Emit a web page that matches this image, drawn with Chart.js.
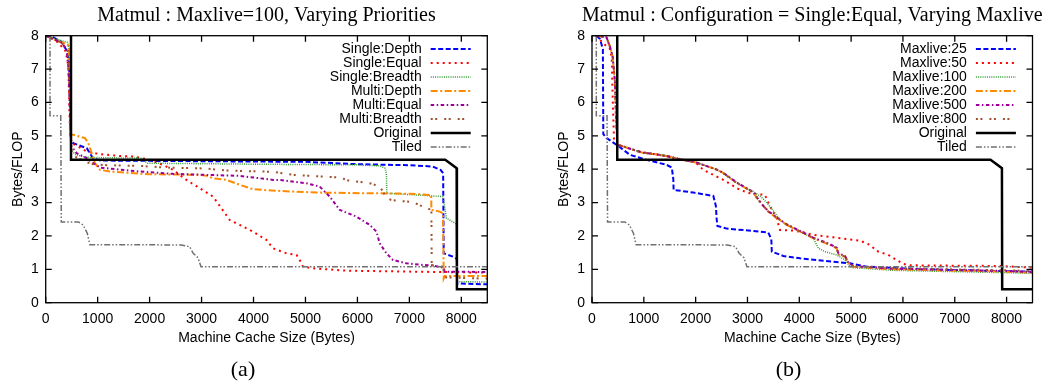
<!DOCTYPE html>
<html>
<head>
<meta charset="utf-8">
<script src="https://cdn.jsdelivr.net/npm/chart.js@4.4.0/dist/chart.umd.min.js"></script>
<style>
  body { margin: 0; background: #fff; }
  .wrap { position: absolute; top: 0; }
</style>
</head>
<body>
<div class="wrap" style="left:0"><canvas id="chartA" width="520" height="383"></canvas></div>
<div class="wrap" style="left:520px"><canvas id="chartB" width="531" height="383"></canvas></div>
<script>
// tick values shared by both panels
const xTickVals = [0, 1000, 2000, 3000, 4000, 5000, 6000, 7000, 8000];
const yTickVals = [0, 1, 2, 3, 4, 5, 6, 7, 8];

// curves common to both panels
const origX = [487, 487, 7690, 7910, 7915, 8500];
const origY = [8, 4.28, 4.28, 4.03, 0.4, 0.4];
const tiledX = [83, 83, 290, 300, 630, 720, 800, 850, 2610, 2770, 2840, 2930, 2990, 8500];
const tiledY = [8, 5.6, 5.6, 2.42, 2.42, 2.33, 2.08, 1.74, 1.73, 1.68, 1.48, 1.35, 1.08, 1.08];

// panel (a): varying priorities
const aLabels = ['Single:Depth', 'Single:Equal', 'Single:Breadth', 'Multi:Depth', 'Multi:Equal', 'Multi:Breadth', 'Original', 'Tiled'];
const sdX = [0, 150, 300, 400, 450, 470, 487, 530, 700, 790, 850, 910, 1050, 2000, 5000, 6000, 7000, 7450, 7600, 7650, 7661, 7873, 7915, 7920, 8500];
const sdY = [8, 7.95, 7.82, 7.57, 7.2, 6.1, 4.87, 4.78, 4.68, 4.63, 4.48, 4.33, 4.26, 4.25, 4.22, 4.15, 4.12, 4.08, 3.98, 3.88, 1.48, 1.36, 1.3, 0.58, 0.55];
const seX = [0, 200, 370, 400, 436, 468, 500, 600, 790, 1045, 1400, 1700, 2000, 2258, 2451, 2579, 2708, 2964, 3221, 3382, 3542, 3734, 3991, 4248, 4376, 4633, 4830, 4889, 4953, 5145, 5788, 7071, 8500];
const seY = [8, 7.85, 7.57, 7.4, 7.07, 5.07, 4.78, 4.7, 4.53, 4.45, 4.4, 4.38, 4.28, 4.13, 3.98, 3.83, 3.68, 3.43, 3.18, 2.83, 2.48, 2.33, 2.13, 1.88, 1.63, 1.48, 1.43, 1.28, 1.08, 1.03, 0.96, 0.93, 0.9];
const sbX = [0, 200, 420, 450, 465, 480, 560, 700, 880, 1850, 1950, 4000, 6000, 6430, 6530, 6558, 6565, 7648, 7713, 7906, 7912, 8500];
const sbY = [8, 7.9, 7.8, 7.6, 6.5, 4.6, 4.45, 4.38, 4.35, 4.33, 4.18, 4.15, 4.13, 4.1, 4.03, 3.88, 3.28, 3.18, 2.53, 2.36, 0.63, 0.62];
const mdX = [0, 200, 404, 440, 460, 475, 533, 757, 821, 885, 949, 1045, 1240, 1690, 2000, 2970, 3100, 3220, 3480, 3740, 3990, 4250, 4760, 5210, 6170, 6810, 7200, 7420, 7424, 7584, 7648, 7661, 7680, 8500];
const mdY = [8, 7.85, 7.75, 7.7, 7.0, 5.03, 5.03, 4.93, 4.78, 4.48, 4.18, 3.98, 3.93, 3.88, 3.85, 3.83, 3.8, 3.73, 3.68, 3.53, 3.4, 3.37, 3.33, 3.3, 3.28, 3.27, 3.25, 3.22, 2.78, 2.73, 2.68, 0.73, 0.8, 0.8];
const meX = [0, 300, 400, 440, 470, 490, 596, 790, 917, 1045, 1168, 1810, 2451, 3093, 3734, 4376, 4504, 5017, 5274, 5467, 5660, 5980, 6237, 6366, 6429, 6558, 6686, 6943, 7263, 7420, 7660, 7680, 8500];
const meY = [8, 7.8, 7.6, 7.0, 5.5, 4.7, 4.48, 4.33, 4.18, 4.05, 4.03, 3.93, 3.86, 3.83, 3.8, 3.68, 3.68, 3.58, 3.48, 3.18, 2.78, 2.58, 2.33, 2.13, 1.78, 1.48, 1.28, 1.18, 1.13, 1.12, 1.05, 0.93, 0.92];
const mbX = [0, 300, 420, 470, 490, 560, 750, 910, 1170, 1800, 2300, 3090, 3480, 4380, 4760, 5660, 5850, 6040, 6240, 6430, 6560, 6650, 7070, 7260, 7390, 7424, 7430, 7650, 7680, 8500];
const mbY = [8, 7.8, 7.6, 6.0, 4.6, 4.38, 4.23, 4.15, 4.12, 4.1, 4.05, 4.02, 3.96, 3.92, 3.83, 3.75, 3.65, 3.62, 3.58, 3.48, 3.15, 3.08, 3.01, 2.88, 2.8, 2.75, 1.12, 1.08, 0.76, 0.72];

// panel (b): Single:Equal, varying maxlive
const bLabels = ['Maxlive:25', 'Maxlive:50', 'Maxlive:100', 'Maxlive:200', 'Maxlive:500', 'Maxlive:800', 'Original', 'Tiled'];
const m25X = [90, 154, 210, 218, 284, 477, 733, 1056, 1441, 1540, 1569, 1575, 1955, 2341, 2390, 2406, 2420, 2599, 3113, 3402, 3460, 3470, 3692, 4014, 4657, 4979, 5301, 6400, 7500, 8500];
const m25Y = [8, 7.9, 7.6, 5.05, 4.93, 4.73, 4.43, 4.28, 4.13, 4.05, 3.7, 3.38, 3.3, 3.2, 2.9, 2.5, 2.3, 2.22, 2.15, 2.1, 1.9, 1.53, 1.4, 1.33, 1.23, 1.18, 1.08, 1.0, 0.96, 0.93];
const m50X = [80, 218, 347, 380, 399, 425, 508, 760, 1000, 1220, 1480, 1680, 1870, 2000, 2148, 2341, 2534, 2856, 3049, 3338, 3435, 3560, 3628, 3885, 4014, 4271, 4657, 5172, 5365, 5494, 5718, 5880, 6007, 6150, 7873, 8500];
const m50Y = [8, 7.77, 7.6, 7.35, 6.15, 4.85, 4.73, 4.6, 4.5, 4.45, 4.38, 4.3, 4.25, 4.2, 3.98, 3.83, 3.68, 3.38, 3.28, 3.23, 2.88, 2.55, 2.18, 2.16, 2.13, 2.03, 1.96, 1.86, 1.73, 1.55, 1.43, 1.28, 1.16, 1.12, 1.1, 1.05];
const m100X = [80, 280, 347, 399, 444, 463, 489, 567, 763, 958, 1219, 1480, 1675, 2000, 2200, 2390, 2520, 2650, 2780, 2950, 3110, 3242, 3371, 3499, 3620, 3757, 4014, 4271, 4367, 4496, 4722, 4882, 4979, 5042, 5800, 7000, 8000, 8500];
const m100Y = [8, 7.95, 7.67, 7.37, 6.6, 5.6, 4.73, 4.7, 4.6, 4.5, 4.45, 4.4, 4.32, 4.22, 4.1, 4.0, 3.9, 3.75, 3.6, 3.45, 3.33, 3.2, 3.0, 2.75, 2.5, 2.33, 2.13, 1.93, 1.63, 1.53, 1.43, 1.28, 1.08, 1.05, 0.97, 0.93, 0.9, 0.88];
const bundleX = [80, 280, 347, 399, 444, 463, 489, 567, 763, 958, 1219, 1480, 1675, 2000, 2200, 2390, 2520, 2650, 2780, 2950, 3110, 3200, 3306, 3420, 3560, 3757, 4014, 4271, 4593, 4722, 4753, 4882, 4946, 5042, 5800, 7000, 8000, 8500];
const m200Y = [8, 7.95, 7.67, 7.37, 6.6, 5.6, 4.73, 4.7, 4.6, 4.5, 4.45, 4.38, 4.3, 4.2, 4.1, 4.0, 3.9, 3.75, 3.6, 3.45, 3.3, 3.1, 2.9, 2.7, 2.55, 2.33, 2.13, 1.93, 1.73, 1.63, 1.45, 1.38, 1.2, 1.08, 1.0, 0.96, 0.93, 0.9];
const m500Y = [8, 7.95, 7.67, 7.37, 6.6, 5.6, 4.73, 4.7, 4.6, 4.5, 4.45, 4.38, 4.3, 4.21, 4.1, 4.0, 3.9, 3.76, 3.62, 3.46, 3.32, 3.12, 2.9, 2.72, 2.56, 2.35, 2.15, 1.95, 1.75, 1.65, 1.48, 1.4, 1.2, 1.1, 1.02, 0.98, 0.95, 0.92];
const m800Y = [8, 7.95, 7.67, 7.37, 6.6, 5.6, 4.73, 4.7, 4.6, 4.5, 4.45, 4.38, 4.3, 4.2, 4.1, 4.0, 3.9, 3.75, 3.6, 3.45, 3.3, 3.1, 2.9, 2.7, 2.55, 2.34, 2.14, 1.94, 1.74, 1.64, 1.46, 1.38, 1.2, 1.09, 1.03, 1.0, 0.97, 0.95];

// gnuplot-like line types, same order in both panels
const lineTypes = [
  { color: '#0000ff', dash: [5, 2.5], width: 2 },
  { color: '#ff0000', dash: [2, 4], width: 2 },
  { color: '#2e9b2e', dash: [1, 1.2], width: 1.5 },
  { color: '#ff8c00', dash: [7, 2.5, 2, 2.5], width: 2 },
  { color: '#9a0099', dash: [3.5, 2.5, 1.5, 2.5], width: 2 },
  { color: '#a0522d', dash: [2, 2.5, 2, 7], width: 2 },
  { color: '#000000', dash: [], width: 2.5 },
  { color: '#707070', dash: [6, 2, 1.5, 2, 1.5, 2], width: 1.5 }
];

const baseFont = { family: "'Liberation Sans', Arial, sans-serif", size: 14 };

function series(label, xs, ys, i) {
  const t = lineTypes[i];
  return {
    label: label,
    data: xs.map((x, k) => ({ x: x, y: ys[k] })),
    borderColor: t.color,
    borderDash: t.dash,
    borderWidth: t.width,
    pointRadius: 0,
    fill: false,
    tension: 0,
    order: -i
  };
}

// frame with inward ticks on all four sides, key, title and caption
const gnuFrame = {
  id: 'gnuFrame',
  afterDatasetsDraw(chart, args, opts) {
    const ctx = chart.ctx;
    const a = chart.chartArea;
    const xs = chart.scales.x, ys = chart.scales.y;
    ctx.save();
    ctx.setLineDash([]);
    ctx.strokeStyle = '#000';
    ctx.lineWidth = 1.3;
    ctx.strokeRect(a.left, a.top, a.right - a.left, a.bottom - a.top);
    ctx.beginPath();
    xTickVals.forEach(v => {
      const px = xs.getPixelForValue(v);
      ctx.moveTo(px, a.bottom); ctx.lineTo(px, a.bottom - 6);
      ctx.moveTo(px, a.top); ctx.lineTo(px, a.top + 6);
    });
    yTickVals.forEach(v => {
      const py = ys.getPixelForValue(v);
      ctx.moveTo(a.left, py); ctx.lineTo(a.left + 6, py);
      ctx.moveTo(a.right, py); ctx.lineTo(a.right - 6, py);
    });
    ctx.stroke();

    // key
    const textRight = a.right - 65.6;
    ctx.font = "14px 'Liberation Sans', Arial, sans-serif";
    ctx.textAlign = 'right';
    ctx.textBaseline = 'middle';
    chart.data.datasets.forEach((ds, i) => {
      const y = 49 + i * 14;
      ctx.fillStyle = '#000';
      ctx.fillText(ds.label, textRight, y);
      ctx.beginPath();
      ctx.strokeStyle = ds.borderColor;
      ctx.lineWidth = ds.borderWidth;
      ctx.setLineDash(ds.borderDash);
      ctx.moveTo(textRight + 9, y);
      ctx.lineTo(textRight + 49, y);
      ctx.stroke();
    });
    ctx.setLineDash([]);

    // title and caption
    ctx.fillStyle = '#000';
    ctx.textAlign = 'center';
    ctx.textBaseline = 'alphabetic';
    ctx.font = "20px 'Liberation Serif', 'Times New Roman', serif";
    ctx.fillText(opts.title, (a.left + a.right) / 2, 21);
    ctx.font = "22px 'Liberation Serif', 'Times New Roman', serif";
    ctx.fillText(opts.caption, opts.captionX, 376);
    ctx.restore();
  }
};

function makeChart(id, datasets, lay) {
  return new Chart(document.getElementById(id), {
    type: 'line',
    data: { datasets: datasets },
    options: {
      responsive: false,
      animation: false,
      events: [],
      layout: { padding: { left: 0, top: 35.7, right: lay.right, bottom: 0 } },
      plugins: {
        legend: { display: false },
        tooltip: { enabled: false },
        gnuFrame: lay
      },
      scales: {
        x: {
          type: 'linear',
          min: 0,
          max: 8500,
          afterBuildTicks: s => { s.ticks = xTickVals.map(v => ({ value: v })); },
          afterFit: s => { s.height = 80.3; },
          grid: { display: false, drawTicks: false },
          border: { display: false },
          ticks: { font: baseFont, color: '#000', padding: 8, maxRotation: 0, autoSkip: false, callback: v => String(v) },
          title: { display: true, text: 'Machine Cache Size (Bytes)', font: baseFont, color: '#000', padding: { top: 0, bottom: 36.6 } }
        },
        y: {
          type: 'linear',
          min: 0,
          max: 8,
          afterBuildTicks: s => { s.ticks = yTickVals.map(v => ({ value: v })); },
          afterFit: s => { s.width = lay.yAxisW; },
          grid: { display: false, drawTicks: false },
          border: { display: false },
          ticks: { font: baseFont, color: '#000', padding: 7, autoSkip: false, callback: v => String(v) },
          title: { display: true, text: 'Bytes/FLOP', font: baseFont, color: '#000', padding: { top: lay.yTitlePad, bottom: 0 } }
        }
      }
    },
    plugins: [gnuFrame]
  });
}

const aSets = [
  series(aLabels[0], sdX, sdY, 0),
  series(aLabels[1], seX, seY, 1),
  series(aLabels[2], sbX, sbY, 2),
  series(aLabels[3], mdX, mdY, 3),
  series(aLabels[4], meX, meY, 4),
  series(aLabels[5], mbX, mbY, 5),
  series(aLabels[6], origX, origY, 6),
  series(aLabels[7], tiledX, tiledY, 7)
];

const bSets = [
  series(bLabels[0], m25X, m25Y, 0),
  series(bLabels[1], m50X, m50Y, 1),
  series(bLabels[2], m100X, m100Y, 2),
  series(bLabels[3], bundleX, m200Y, 3),
  series(bLabels[4], bundleX, m500Y, 4),
  series(bLabels[5], bundleX, m800Y, 5),
  series(bLabels[6], origX, origY, 6),
  series(bLabels[7], tiledX, tiledY, 7)
];

makeChart('chartA', aSets, {
  right: 32.7, yAxisW: 45.7, yTitlePad: 9.5,
  title: 'Matmul : Maxlive=100, Varying Priorities', caption: '(a)', captionX: 243
});
makeChart('chartB', bSets, {
  right: 18.5, yAxisW: 72, yTitlePad: 35.8,
  title: 'Matmul : Configuration = Single:Equal, Varying Maxlive', caption: '(b)', captionX: 268.5
});
</script>
</body>
</html>
